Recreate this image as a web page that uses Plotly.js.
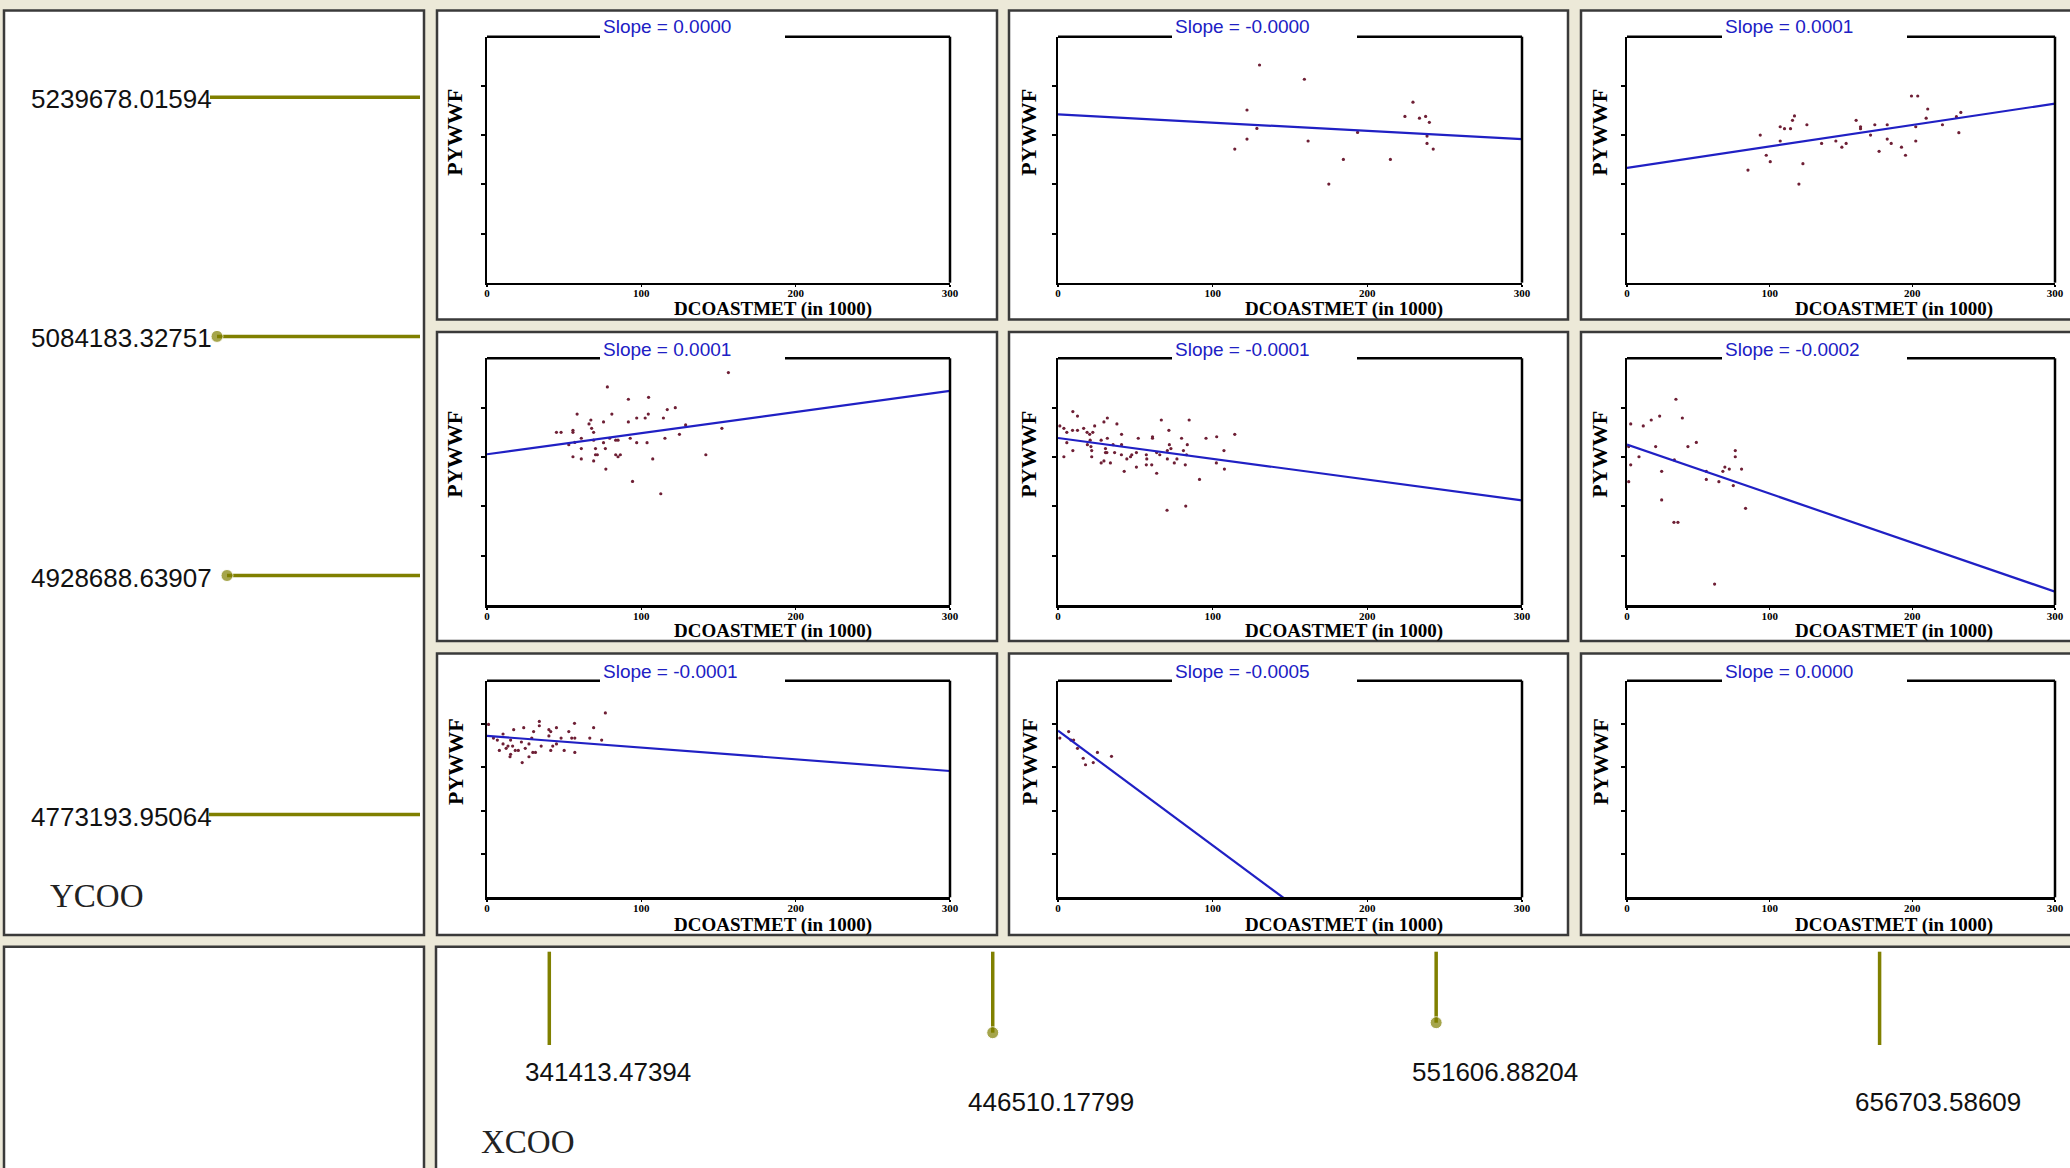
<!DOCTYPE html>
<html><head><meta charset="utf-8">
<script src="https://cdn.plot.ly/plotly-3.0.1.min.js"></script>
<style>html,body{margin:0;padding:0;background:#ECE9D8;overflow:hidden}#chart{width:2070px;height:1168px}</style>
</head><body><div id="chart"></div>
<script>
// ---------------- data ----------------
const slopeLabels = ['0.0000','-0.0000','0.0001','0.0001','-0.0001','-0.0002','-0.0001','-0.0005','0.0000'];
const ycooBreaks = [5239678.01594, 5084183.32751, 4928688.63907, 4773193.95064];
const ycooLabels = ['5239678.01594','5084183.32751','4928688.63907','4773193.95064'];
const xcooBreaks = [341413.47394, 446510.17799, 551606.88204, 656703.58609];
const xcooLabels = ['341413.47394','446510.17799','551606.88204','656703.58609'];
const xTickVals = [0,100,200,300];
const yTickVals = [20,40,60,80];
// fitted regression line value at x=0 and at x=300 (null = no line)
const fitAt0   = [null, 68.4, 46.7, 61.1, 67.7, 65.0, 74.5, 76.9, null];
const fitAt300 = [null, 58.4, 72.8, 86.8, 42.4,  5.4, 58.3, -81.8, null];

const r1c2X = [130.3,159.3,122.2,128.6,122.2,114.3,161.7,193.7,184.5,175.1,214.9,229.5,224.3,233.7,237.7,240.1,238.6,238.6,242.6];
const r1c2Y = [88.5,82.7,70.2,62.7,58.4,54.3,57.6,61.1,50.1,40.1,50.1,73.4,67.6,66.9,67.6,65.2,59.6,56.6,54.3];
const r1c3X = [84.8,93.4,97.6,100.4,107.4,107.4,110.4,114.6,116.0,117.4,126.1,120.5,123.3,136.4,146.4,150.6,153.6,160.6,163.7,163.7,170.7,173.7,176.7,182.4,182.4,185.2,192.4,195.2,199.4,203.8,202.4,202.4,209.7,210.8,221.1,230.9,234.0,232.6];
const r1c3Y = [45.8,60.0,51.8,49.2,63.4,57.6,62.6,62.6,66.0,67.8,64.2,40.1,48.4,56.6,57.6,55.1,56.6,66.0,63.4,62.6,60.0,64.2,53.4,64.2,58.4,56.6,55.1,51.8,75.9,75.9,63.4,57.6,66.9,70.6,64.2,67.5,69.2,61.0];
const r2c1X = [156.4,78.0,91.6,104.7,58.4,80.9,67.3,75.5,91.6,97.0,102.5,104.5,114.3,116.8,122.0,66.1,67.8,45.0,48.0,55.7,55.7,69.1,128.7,124.7,152.2,53.0,56.9,61.1,61.1,69.1,75.5,79.5,83.4,84.9,92.8,97.0,103.7,115.3,70.3,76.7,55.7,61.1,70.3,71.5,69.1,83.4,84.9,86.4,107.4,141.8,77.0,94.3,112.6];
const r2c1Y = [94.2,88.4,83.4,84.2,77.4,77.4,75.0,74.2,74.2,75.8,75.8,77.4,75.8,79.2,80.0,73.4,71.6,70.0,70.0,70.8,70.0,70.0,73.0,69.2,71.6,65.0,65.9,67.6,63.4,66.8,65.8,67.6,66.8,66.8,67.6,65.8,65.8,67.6,63.4,63.4,60.1,59.2,60.9,60.9,58.4,60.9,60.1,60.9,59.2,60.9,55.1,50.1,45.1];
const r2c2X = [9.6,12.6,31.9,29.7,38.1,66.8,84.8,1.2,3.8,5.7,9.4,12.6,16.6,18.8,23.7,22.5,20.5,41.1,71.7,114.3,102.6,95.7,51.9,61.1,61.1,79.9,31.9,27.9,20.8,5.7,19.0,21.3,35.6,41.1,72.0,83.6,9.6,21.8,30.7,31.6,36.6,41.0,47.7,50.7,63.8,57.1,65.8,70.7,73.0,81.1,83.1,107.3,3.8,21.8,30.7,44.5,46.9,57.4,70.7,76.9,27.9,29.7,33.9,57.1,60.6,75.2,82.3,102.4,50.7,107.6,42.8,63.8,91.5,70.5,82.6];
const r2c2Y = [78.4,76.6,75.8,74.2,73.4,75.0,75.0,72.6,71.6,70.0,70.8,70.8,71.6,70.0,72.6,70.0,69.2,69.2,70.8,69.2,68.2,67.6,67.6,68.2,67.6,67.6,67.6,66.8,66.8,65.8,65.0,64.2,65.0,65.0,65.0,65.0,62.6,62.6,63.4,61.8,61.8,60.9,60.9,61.8,61.8,60.9,60.9,62.6,63.4,62.6,60.9,62.6,60.1,60.1,61.8,59.2,60.1,59.2,59.2,59.2,57.6,58.4,57.6,56.8,56.8,57.6,56.8,57.6,55.9,55.1,54.2,53.4,50.9,38.4,40.1];
const r2c3X = [34.3,22.9,17.0,38.8,2.6,11.4,20.1,42.7,48.6,1.2,8.4,75.9,75.9,2.6,24.3,33.2,55.6,68.6,67.2,71.7,80.3,1.2,55.6,64.4,74.5,24.3,83.1,32.9,35.7,61.4];
const r2c3Y = [83.4,76.6,75.0,75.8,73.4,72.6,64.2,64.2,65.9,64.2,60.1,62.6,60.1,56.8,54.2,58.8,54.2,55.9,54.2,55.1,55.1,50.0,50.9,50.0,48.4,42.6,39.2,33.5,33.5,8.5];
const r3c1X = [76.7,1.0,33.9,56.7,23.8,17.3,33.9,40.1,45.0,53.0,69.1,41.3,30.2,10.4,4.2,6.7,15.3,29.0,40.1,48.0,54.9,56.9,66.6,74.3,10.4,13.6,16.6,22.3,27.2,35.1,42.6,45.0,8.0,12.4,18.3,24.8,29.7,31.4,41.3,50.0,56.9,15.3,20.3,27.2,22.8,14.9];
const r3c1Y = [85.1,79.8,81.2,80.3,78.3,77.4,79.2,77.4,78.3,76.5,78.3,76.5,76.5,75.4,73.5,72.6,72.6,73.5,74.5,73.5,73.5,73.5,73.5,72.6,70.8,69.8,69.8,71.7,70.8,69.8,69.8,70.8,67.8,68.8,67.8,68.8,66.9,66.9,67.8,67.8,66.9,66.0,67.8,64.9,62.2,64.9];
const r3c2X = [1.2,6.9,8.4,10.1,12.6,16.3,17.8,22.8,25.5,34.6];
const r3c2Y = [73.5,76.5,72.6,72.6,68.8,64.2,61.2,62.2,66.9,65.1];

const cellPoints = [[[],[]],[r1c2X,r1c2Y],[r1c3X,r1c3Y],[r2c1X,r2c1Y],[r2c2X,r2c2Y],[r2c3X,r2c3Y],[r3c1X,r3c1Y],[r3c2X,r3c2Y],[[],[]]];

// ---------------- layout geometry (pixels) ----------------
const W = 2070, H = 1168;
const colPlot = [[487,950],[1058,1522],[1627,2055]];
const rowPlot = [[36.7,282.7],[358.3,605],[680.7,897.3]];
const colCell = [[437,997],[1009,1568],[1581,2090]];
const rowCell = [[10.5,319.5],[332,641],[653.5,935]];
const gapStart = [600,1172,1722], gapW = 185;
const titleY = [26.7,349.3,671];
const xTitleX = [773,1344,1894], xTitleY = [309,631,924.5];
const yTitleX = [455,1029,1600];
const yLineTopPx = 97.3, yLineSpacingPx = 239.1, yLineStartPx = [210,217,227,209], yLineEndPx = 420;
const xLineLeftPx = 549.3, xLineSpacingPx = 443.43, xLineTopPx = 951.7, xLineEndPx = [1045,1032.7,1022.7,1045];
const xLabelYPx = [1071.7,1101.7,1071.7,1101.7];
const dotMask = [false,true,true,false];

const px = v => v / W;
const py = v => 1 - v / H;

const OLIVE = '#808000', BORDER = '#3a3a3a', BLUE = '#2020c4', DOT = '#6e1f35';
const SANS = "'Liberation Sans',Arial,sans-serif";
const SERIF = "'Liberation Serif','Times New Roman',serif";

const traces = [];
const layout = {
  width: W, height: H, margin: {l:0,r:0,t:0,b:0},
  paper_bgcolor: '#ECE9D8', plot_bgcolor: 'rgba(0,0,0,0)',
  showlegend: false, hovermode: false, dragmode: false,
  shapes: [], annotations: []
};

// panels
const rect = (x0,x1,y0,y1) => ({type:'rect', xref:'paper', yref:'paper', x0:px(x0), x1:px(x1), y0:py(y1), y1:py(y0), fillcolor:'#ffffff', line:{color:BORDER,width:2.5}, layer:'below'});
layout.shapes.push(rect(4,424,10.5,935));
layout.shapes.push(rect(4,424,946.7,1190));
layout.shapes.push(rect(436,2090,946.7,1190));

for (let i = 0; i < 9; i++) {
  const r = Math.floor(i/3), c = i % 3, n = i + 1;
  const xa = 'xaxis' + (n===1?'':n), ya = 'yaxis' + (n===1?'':n);
  const xr = 'x' + (n===1?'':n), yr = 'y' + (n===1?'':n);
  layout.shapes.push(rect(colCell[c][0], colCell[c][1], rowCell[r][0], rowCell[r][1]));
  layout[xa] = {domain:[px(colPlot[c][0]), px(colPlot[c][1])], range:[0,300], anchor:yr,
    tickvals:xTickVals, ticks:'outside', ticklen:2, tickwidth:1.5, tickcolor:'#000', ticklabelstandoff:-3,
    showline:true, linecolor:'#000', linewidth:2.5, showgrid:false, zeroline:false, fixedrange:true,
    tickfont:{family:SERIF, size:11, color:'#000', weight:'bold'}};
  layout[ya] = {domain:[py(rowPlot[r][1]), py(rowPlot[r][0])], range:[0,100], anchor:xr,
    tickvals:yTickVals, showticklabels:false, ticks:'outside', ticklen:4, tickwidth:2, tickcolor:'#000',
    showline:true, linecolor:'#000', linewidth:2.5, showgrid:false, zeroline:false, fixedrange:true};
  // right border and top border with a gap for the title
  const L = colPlot[c][0], R = colPlot[c][1], T = rowPlot[r][0], B = rowPlot[r][1];
  const ln = (x0,y0,x1,y1) => ({type:'line', xref:'paper', yref:'paper', x0:px(x0), y0:py(y0), x1:px(x1), y1:py(y1), line:{color:'#000', width:2.5}});
  layout.shapes.push(ln(R, T, R, B));
  layout.shapes.push(ln(L, T, gapStart[c], T));
  layout.shapes.push(ln(gapStart[c] + gapW, T, R, T));
  // texts
  layout.annotations.push({xref:'paper', yref:'paper', x:px(gapStart[c]+1), y:py(titleY[r]), xanchor:'left', yanchor:'middle',
    text:'Slope = ' + slopeLabels[i], showarrow:false, font:{family:SANS, size:19, color:BLUE}});
  layout.annotations.push({xref:'paper', yref:'paper', x:px(xTitleX[c]), y:py(xTitleY[r]), xanchor:'center', yanchor:'middle',
    text:'DCOASTMET (in 1000)', showarrow:false, font:{family:SERIF, size:19, color:'#000', weight:'bold'}});
  layout.annotations.push({xref:'paper', yref:'paper', x:px(yTitleX[c]), y:py((T+B)/2 - 27), xanchor:'center', yanchor:'middle',
    text:'PYWWF', textangle:-90, showarrow:false, font:{family:SERIF, size:22, color:'#000', weight:'bold'}});
  // data
  traces.push({type:'scatter', mode:'markers', x:cellPoints[i][0], y:cellPoints[i][1], xaxis:xr, yaxis:yr,
    marker:{size:3.2, color:DOT}});
  if (fitAt0[i] !== null) {
    traces.push({type:'scatter', mode:'lines', x:[0,300], y:[fitAt0[i], fitAt300[i]], xaxis:xr, yaxis:yr,
      line:{color:BLUE, width:2.2}});
  }
}

// conditioning axes: YCOO (left panel) and XCOO (bottom panel)
const yUpp = (ycooBreaks[0] - ycooBreaks[3]) / (3 * yLineSpacingPx);
const yMax = ycooBreaks[0] + yLineTopPx * yUpp;
layout.yaxis10 = {domain:[0,1], range:[yMax - H*yUpp, yMax], visible:false, fixedrange:true, anchor:'x12'};
const xUpp = (xcooBreaks[3] - xcooBreaks[0]) / (3 * xLineSpacingPx);
const xMin = xcooBreaks[0] - xLineLeftPx * xUpp;
layout.xaxis10 = {domain:[0,1], range:[xMin, xMin + W*xUpp], visible:false, fixedrange:true, anchor:'y12'};
// pixel helper axes for the fixed ends of the guide lines
layout.xaxis12 = {domain:[0,1], range:[0,W], visible:false, fixedrange:true, anchor:'y10'};
layout.yaxis12 = {domain:[0,1], range:[H,0], visible:false, fixedrange:true, anchor:'x10'};

for (let k = 0; k < 4; k++) {
  traces.push({type:'scatter', mode:'lines+markers', x:[yLineStartPx[k], yLineEndPx], y:[ycooBreaks[k], ycooBreaks[k]],
    xaxis:'x12', yaxis:'y10', cliponaxis:false, line:{color:OLIVE, width:3.5},
    marker:{size:[dotMask[k]?12:0, 0], color:OLIVE}});
  layout.annotations.push({xref:'paper', yref:'y10', x:px(29), y:ycooBreaks[k], yshift:-2, xanchor:'left', yanchor:'middle',
    text:ycooLabels[k], showarrow:false, font:{family:SANS, size:26, color:'#111'}});
  traces.push({type:'scatter', mode:'lines+markers', x:[xcooBreaks[k], xcooBreaks[k]], y:[xLineTopPx, xLineEndPx[k]],
    xaxis:'x10', yaxis:'y12', cliponaxis:false, line:{color:OLIVE, width:3.5},
    marker:{size:[0, dotMask[k]?12:0], color:OLIVE}});
  layout.annotations.push({xref:'x10', yref:'paper', x:xcooBreaks[k], xshift:58.5, y:py(xLabelYPx[k]), xanchor:'center', yanchor:'middle',
    text:xcooLabels[k], showarrow:false, font:{family:SANS, size:26, color:'#111'}});
}
layout.annotations.push({xref:'paper', yref:'paper', x:px(48), y:py(896.4), xanchor:'left', yanchor:'middle',
  text:'YCOO', showarrow:false, font:{family:SERIF, size:33, color:'#222'}});
layout.annotations.push({xref:'paper', yref:'paper', x:px(479), y:py(1141.7), xanchor:'left', yanchor:'middle',
  text:'XCOO', showarrow:false, font:{family:SERIF, size:33, color:'#222'}});

Plotly.newPlot('chart', traces, layout, {staticPlot:true, displayModeBar:false});
</script></body></html>
